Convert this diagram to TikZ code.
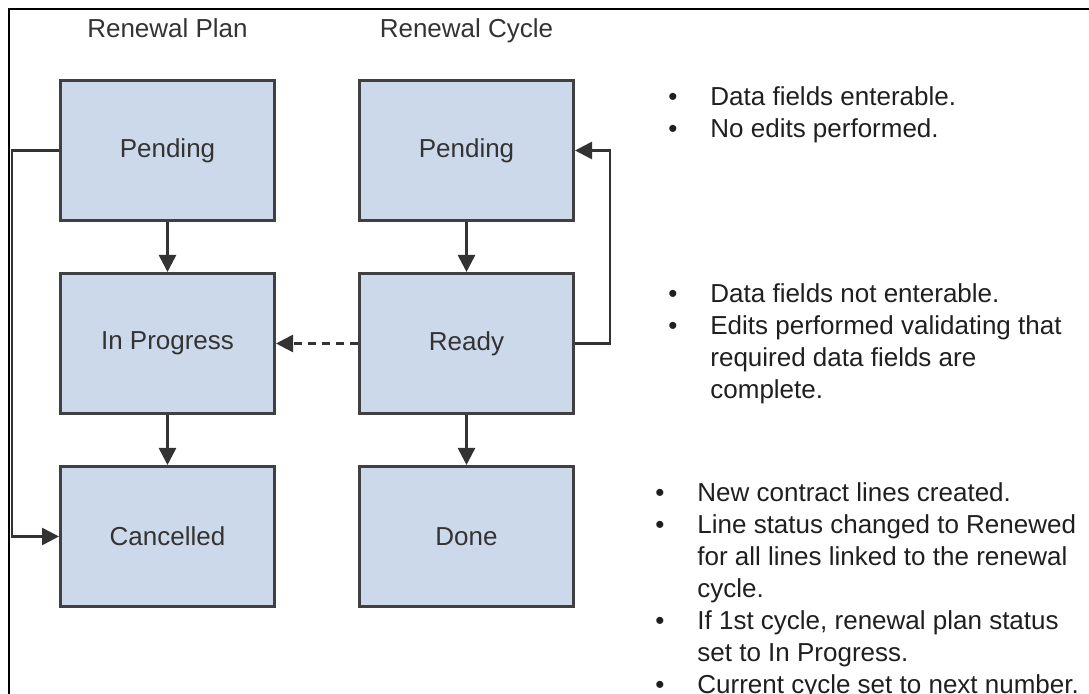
\documentclass[tikz,border=0pt]{standalone}
\usepackage{fontspec}
\setmainfont{Liberation Sans}
\usetikzlibrary{arrows.meta,positioning}
\definecolor{StateFill}{RGB}{204,217,235}
\definecolor{StateLine}{RGB}{64,64,64}
\definecolor{FlowLine}{RGB}{51,51,51}
\newcommand{\bulletrow}[1]{\makebox[21pt][l]{\textbullet}#1}
\newcommand{\hangrow}[1]{\hspace*{21pt}#1}
\tikzset{
    state/.style={draw=StateLine, line width=1.5pt, fill=StateFill, minimum width=107pt, minimum height=70pt, inner sep=0pt, text=black!80},
    flow/.style={draw=FlowLine, line width=1.3pt, -{Triangle[length=8.5pt,width=8.5pt]}},
    heading/.style={text=black!80, inner sep=0pt},
    note/.style={text=black!88, align=left, inner sep=0pt, anchor=north west}
}

\begin{document}
\begin{tikzpicture}[x=0.5pt, y=-0.5pt, font=\fontsize{13}{16}\selectfont, node distance=25pt and 41pt]
\useasboundingbox (0,0) rectangle (1089,694);
\draw[line width=1pt] (9,694) -- (9,9) -- (1089,9);

% renewal plan states
\node[state] (ppend) at (167.5,150.5) {Pending};
\node[state, below=of ppend] (pprog) {In Progress};
\node[state, below=of pprog] (pcanc) {Cancelled};
% renewal cycle states
\node[state, right=of ppend] (cpend) {Pending};
\node[state, below=of cpend] (cready) {Ready};
\node[state, below=of cready] (cdone) {Done};

\node[heading, above=20.5pt of ppend, anchor=base] (plantitle) {Renewal Plan};
\node[heading, above=20.5pt of cpend, anchor=base] (cycletitle) {Renewal Cycle};

\draw[flow] (ppend) -- (pprog);
\draw[flow] (pprog) -- (pcanc);
\draw[flow] (cpend) -- (cready);
\draw[flow] (cready) -- (cdone);
\draw[flow, dash pattern=on 4pt off 3pt] (cready) -- (pprog);
\draw[flow] (ppend.west) -- ++(-47,0) |- (pcanc.west);
\draw[flow] (cready.east) -- ++(35,0) |- (cpend.east);

% notes
\node[note] (pendnote) at (668,86) {\bulletrow{Data fields enterable.}\\
    \bulletrow{No edits performed.}};
\node[note] (readynote) at (668,283) {\bulletrow{Data fields not enterable.}\\
    \bulletrow{Edits performed validating that}\\
    \hangrow{required data fields are}\\
    \hangrow{complete.}};
\node[note] (donenote) at (655,482) {\bulletrow{New contract lines created.}\\
    \bulletrow{Line status changed to Renewed}\\
    \hangrow{for all lines linked to the renewal}\\
    \hangrow{cycle.}\\
    \bulletrow{If 1st cycle, renewal plan status}\\
    \hangrow{set to In Progress.}\\
    \bulletrow{Current cycle set to next number.}};
\end{tikzpicture}
\end{document}
